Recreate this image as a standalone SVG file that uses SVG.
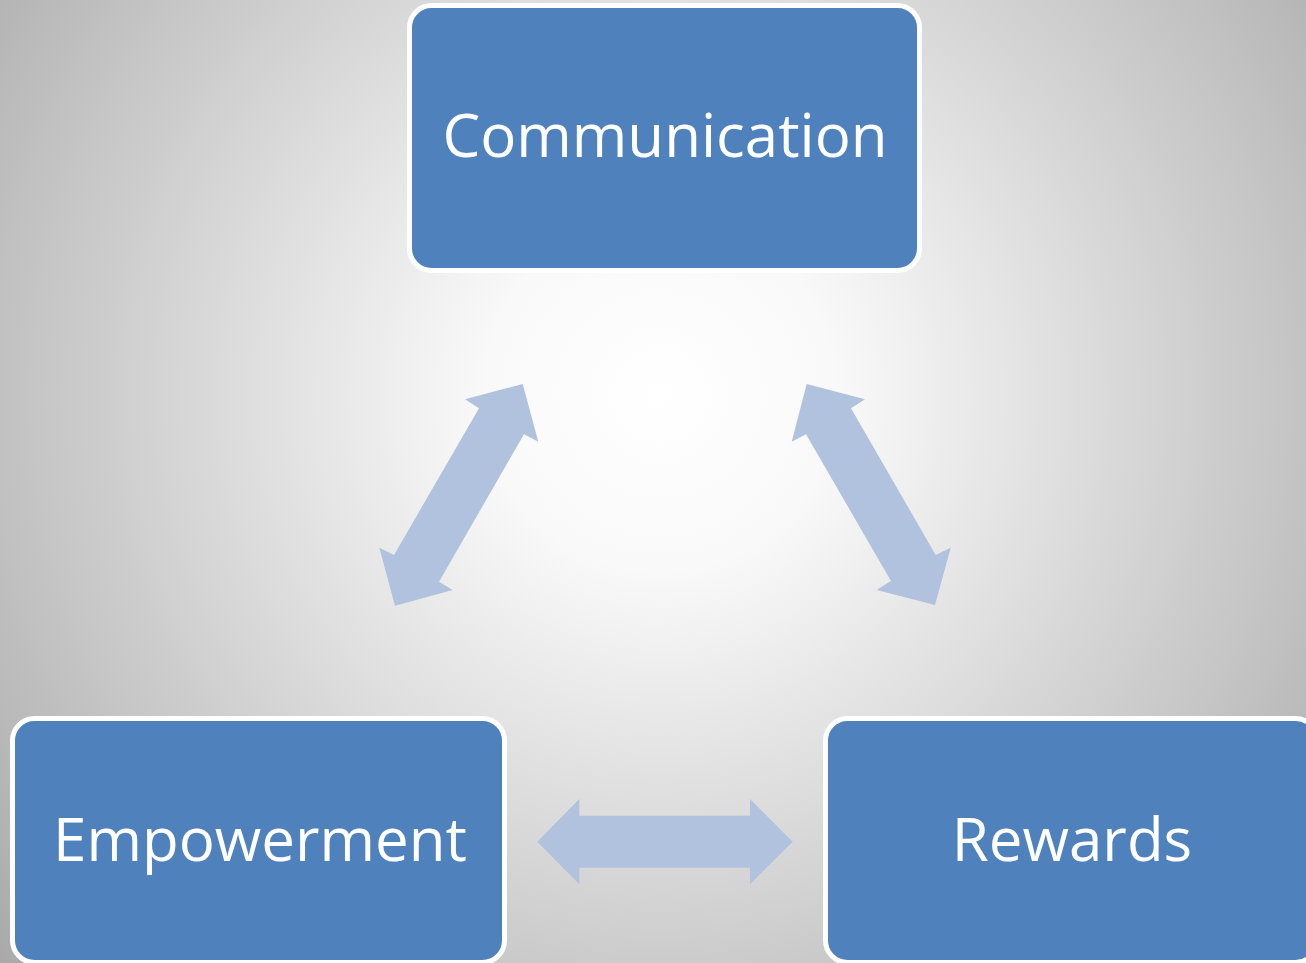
<svg xmlns="http://www.w3.org/2000/svg" width="1306" height="963" viewBox="0 0 1306 963">
<defs>
<radialGradient id="bg" gradientUnits="userSpaceOnUse" cx="660" cy="395" r="880">
<stop offset="0" stop-color="#ffffff"/>
<stop offset="0.2" stop-color="#f9f9f9"/>
<stop offset="1" stop-color="#a8a8a8"/>
</radialGradient>
<style>
.box{fill:#4f81bd;stroke:#ffffff;stroke-width:5}
.lbl{fill:#ffffff;font-family:"Open Sans","Noto Sans",sans-serif;font-size:60px;text-anchor:middle}
.arr{fill:#b0c2dd}
</style>
</defs>
<rect width="1306" height="963" fill="url(#bg)"/>
<g id="connectors">
<polygon class="arr" points="522.7,384 538.3,441.7 524,434.3 439,581.7 452.7,590 395,605.7 379.3,547.7 394,555 479,408.3 465,399.3"/>
<polygon class="arr" points="806.7,384 865,399.3 851,408.3 935.7,555 950.7,547.7 935,605 876.7,590 891,581 806,434.3 791.7,441.7"/>
<polygon class="arr" points="537.3,841.7 579.3,799 579.3,815.7 750,815.7 750,799 792.7,841.7 750,884.3 750,867.7 579.3,867.7 579.3,884.3"/>
</g>
<g id="communication">
<rect class="box" x="409.5" y="5.5" width="510" height="265" rx="22"/>
<text class="lbl" x="665" y="157">Communication</text>
</g>
<g id="empowerment">
<rect class="box" x="12.5" y="718.5" width="492" height="244" rx="22"/>
<text class="lbl" x="260" y="861">Empowerment</text>
</g>
<g id="rewards">
<rect class="box" x="825.5" y="718.5" width="492" height="244" rx="22"/>
<text class="lbl" x="1072" y="861">Rewards</text>
</g>
</svg>
